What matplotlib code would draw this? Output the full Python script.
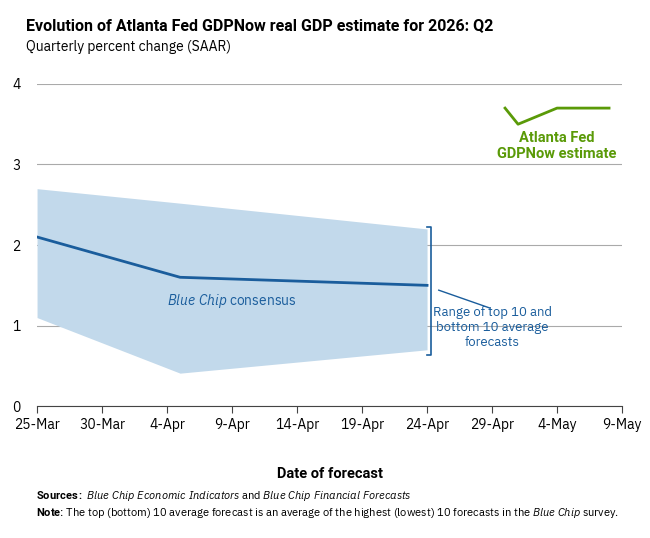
import matplotlib
matplotlib.use("Agg")
import matplotlib.pyplot as plt
import matplotlib.dates as mdates
from datetime import datetime as dt

plt.rcParams['font.family'] = ['IBM Plex Sans', 'Roboto', 'DejaVu Sans']
plt.rcParams['mathtext.fontset'] = 'custom'
plt.rcParams['mathtext.rm'] = 'IBM Plex Sans'
plt.rcParams['mathtext.it'] = 'IBM Plex Sans:italic'
plt.rcParams['mathtext.bf'] = 'Roboto:bold'

cons_dates = [dt(2026,3,25), dt(2026,4,5), dt(2026,4,24)]
cons_vals = [2.1, 1.6, 1.5]
band_dates = [dt(2026,3,25), dt(2026,4,5), dt(2026,4,24)]
band_upper = [2.7, 2.52, 2.2]
band_lower = [1.1, 0.41, 0.7]
now_dates = [dt(2026,4,30), dt(2026,5,1), dt(2026,5,4), dt(2026,5,8)]
now_vals = [3.7, 3.5, 3.7, 3.7]
xtick_dates = [dt(2026,3,25), dt(2026,3,30), dt(2026,4,4), dt(2026,4,9), dt(2026,4,14),
               dt(2026,4,19), dt(2026,4,24), dt(2026,4,29), dt(2026,5,4), dt(2026,5,9)]
xtick_labels = ['25-Mar','30-Mar','4-Apr','9-Apr','14-Apr','19-Apr','24-Apr','29-Apr','4-May','9-May']

blue = '#1a5d9c'
green = '#5a9a08'
bold = dict(family='Roboto', fontweight='bold')
fig = plt.figure(figsize=(6.5, 5.38), dpi=100)
ax = fig.add_axes([0.057, 0.245, 0.9, 0.599])
ax.fill_between(band_dates, band_lower, band_upper, color='#c2d9eb', lw=0)
ax.plot(cons_dates, cons_vals, color=blue, lw=2)
ax.plot(now_dates, now_vals, color=green, lw=2)
ax.set_xlim(dt(2026,3,25), dt(2026,5,9))
ax.set_ylim(0, 4)
ax.set_yticks([0,1,2,3,4])
ax.grid(axis='y', color='#aaaaaa', lw=0.8)
ax.set_axisbelow(True)
for s in ['top','right','left']:
    ax.spines[s].set_visible(False)
ax.spines['bottom'].set_color('#444444')
ax.set_xticks(xtick_dates)
ax.set_xticklabels(xtick_labels)
ax.tick_params(axis='y', length=0, labelsize=10, pad=12)
ax.tick_params(axis='x', length=5, labelsize=10, color='#444444')
ax.set_xlabel('Date of forecast', fontsize=10.5, labelpad=25, **bold)

bx = mdates.date2num(dt(2026,4,24)) + 0.3
ax.plot([bx-0.3, bx, bx, bx-0.3], [2.22, 2.22, 0.63, 0.63], color=blue, lw=1.2, clip_on=False)
ax.plot([bx+0.6, mdates.date2num(dt(2026,4,28)) + 0.8], [1.44, 1.22], color=blue, lw=1)
ax.text(mdates.date2num(dt(2026,4,29)), 0.98, 'Range of top 10 and\nbottom 10 average\nforecasts',
        color=blue, fontsize=9.5, ha='center', va='center', linespacing=1.2)
ax.text(mdates.date2num(dt(2026,4,9)), 1.3, r'$\it{Blue\ Chip}$ consensus', color=blue,
        fontsize=10, ha='center', va='center')
ax.text(mdates.date2num(dt(2026,5,4)), 3.23, 'Atlanta Fed\nGDPNow estimate', color=green,
        fontsize=10.5, ha='center', va='center', linespacing=1.2, **bold)

fig.text(0.04, 0.945, 'Evolution of Atlanta Fed GDPNow real GDP estimate for 2026: Q2',
         fontsize=11.5, **bold)
fig.text(0.04, 0.905, 'Quarterly percent change (SAAR)', fontsize=10)
fig.text(0.055, 0.072, r'$\bf{Sources:}$ $\it{Blue\ Chip\ Economic\ Indicators}$ and $\it{Blue\ Chip\ Financial\ Forecasts}$', fontsize=8)
fig.text(0.055, 0.04, r'$\bf{Note}$: The top (bottom) 10 average forecast is an average of the highest (lowest) 10 forecasts in the $\it{Blue\ Chip}$ survey.', fontsize=8)
fig.savefig('out.png', dpi=100)
